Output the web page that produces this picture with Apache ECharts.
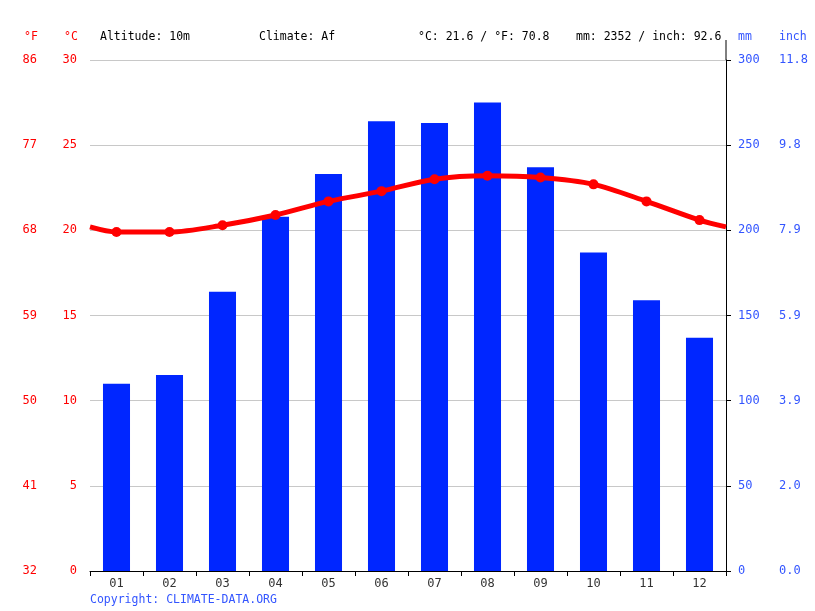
<!DOCTYPE html>
<html>
<head>
<meta charset="utf-8">
<script src="https://cdn.jsdelivr.net/npm/echarts@6/dist/echarts.min.js"></script>
<style>
  html, body { margin: 0; padding: 0; background: #fff; }
  #chart { width: 815px; height: 611px; }
</style>
</head>
<body>
<div id="chart"></div>
<script>
const months = ['01', '02', '03', '04', '05', '06', '07', '08', '09', '10', '11', '12']
const rainMm = [110, 115, 164, 208, 233, 264, 263, 275, 237, 187, 159, 137]
const tempC = [19.9, 19.9, 20.3, 20.9, 21.7, 22.3, 23.0, 23.2, 23.1, 22.7, 21.7, 20.6]
const tempEdge = 20.2 // where the line meets the plot edges
const fahrenheitLabels = ['32', '41', '50', '59', '68', '77', '86']
const inchLabels = ['0.0', '2.0', '3.9', '5.9', '7.9', '9.8', '11.8']

const mono = 'DejaVu Sans Mono'
const red = '#ff0000'
const blue = '#0026ff'
const labelBlue = '#3355ff'

// line runs from the left edge to the right edge, points at category centres
const lineData = [{value: [0, tempEdge], symbol: 'none'}]
tempC.forEach((t, i) => lineData.push([i + 0.5, t]))
lineData.push({value: [12, tempEdge], symbol: 'none'})

const headerText = (x, text, color) => ({
  type: 'text', left: x, top: 31,
  style: {text: text, fill: color, font: '11.5px "' + mono + '"'}
})

const option = {
  animation: false,
  backgroundColor: '#fff',
  grid: {left: 90, right: 89, top: 60, bottom: 40},
  graphic: [
    headerText(24, '°F', red),
    headerText(64, '°C', red),
    headerText(100, 'Altitude: 10m', '#000'),
    headerText(259, 'Climate: Af', '#000'),
    headerText(418, '°C: 21.6 / °F: 70.8', '#000'),
    headerText(576, 'mm: 2352 / inch: 92.6', '#000'),
    headerText(738, 'mm', labelBlue),
    headerText(779, 'inch', labelBlue),
    {type: 'text', left: 90, top: 594,
      style: {text: 'Copyright: CLIMATE-DATA.ORG', fill: labelBlue, font: '11.5px "' + mono + '"'}},
    {type: 'line', shape: {x1: 726, y1: 40, x2: 726, y2: 60},
      style: {stroke: '#000', lineWidth: 1}}
  ],
  xAxis: [
    {
      type: 'category',
      data: months,
      axisLine: {lineStyle: {color: '#000'}},
      axisTick: {show: true, length: 5, lineStyle: {color: '#000'}},
      axisLabel: {color: '#333', fontFamily: mono, fontSize: 12, margin: 7},
      splitLine: {show: false}
    },
    {
      type: 'value', min: 0, max: 12, show: false
    }
  ],
  yAxis: [
    {
      type: 'value', min: 0, max: 30, interval: 5, position: 'left',
      axisLine: {show: false}, axisTick: {show: false},
      axisLabel: {color: red, fontFamily: mono, fontSize: 12, margin: 13, padding: [4, 0, 0, 0]},
      splitLine: {lineStyle: {color: '#c8c8c8', width: 1}}
    },
    {
      type: 'value', min: 0, max: 30, interval: 5, position: 'left', offset: 40,
      axisLine: {show: false}, axisTick: {show: false},
      axisLabel: {color: red, fontFamily: mono, fontSize: 12, margin: 13, padding: [4, 0, 0, 0],
        formatter: (v) => fahrenheitLabels[v / 5]},
      splitLine: {show: false}
    },
    {
      type: 'value', min: 0, max: 300, interval: 50, position: 'right',
      axisLine: {show: true, lineStyle: {color: '#000'}},
      axisTick: {show: true, length: 5, lineStyle: {color: '#000'}},
      axisLabel: {color: labelBlue, fontFamily: mono, fontSize: 12, margin: 12, padding: [4, 0, 0, 0]},
      splitLine: {show: false}
    },
    {
      type: 'value', min: 0, max: 300, interval: 50, position: 'right', offset: 41,
      axisLine: {show: false}, axisTick: {show: false},
      axisLabel: {color: labelBlue, fontFamily: mono, fontSize: 12, margin: 12, padding: [4, 0, 0, 0],
        formatter: (v) => inchLabels[v / 50]},
      splitLine: {show: false}
    }
  ],
  series: [
    {
      type: 'bar',
      data: rainMm,
      xAxisIndex: 0,
      yAxisIndex: 2,
      barWidth: '51%',
      itemStyle: {color: blue}
    },
    {
      type: 'line',
      data: lineData,
      xAxisIndex: 1,
      yAxisIndex: 0,
      smooth: 0.3,
      symbol: 'circle',
      symbolSize: 10,
      lineStyle: {color: red, width: 5},
      itemStyle: {color: red},
      z: 5
    }
  ]
}

const chart = echarts.init(document.getElementById('chart'))
chart.setOption(option)
</script>
</body>
</html>
